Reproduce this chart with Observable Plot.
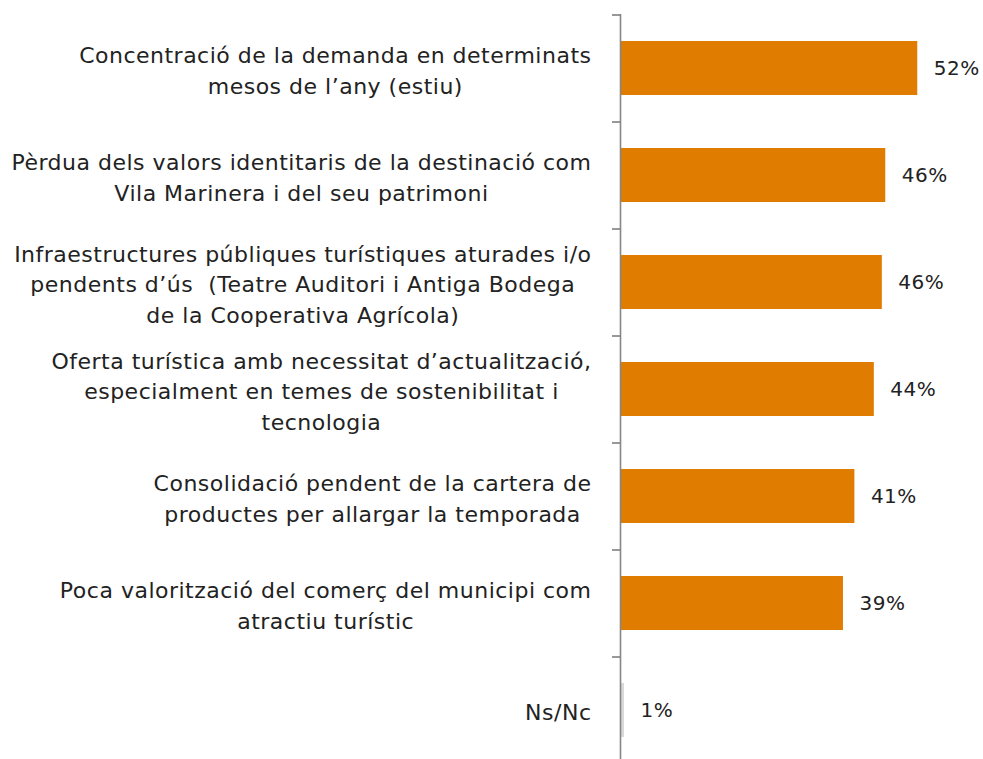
<!DOCTYPE html>
<html>
<head>
<meta charset="utf-8">
<script src="https://cdn.jsdelivr.net/npm/d3@7"></script>
<script src="https://cdn.jsdelivr.net/npm/@observablehq/plot@0.6"></script>
<style>
  html, body { margin: 0; padding: 0; background: #fff; overflow: hidden; }
  #chart { width: 983px; height: 759px; overflow: hidden; }
</style>
</head>
<body>
<div id="chart"></div>
<script>
const categories = [
  "Concentració de la demanda en determinats\nmesos de l’any (estiu)",
  "Pèrdua dels valors identitaris de la destinació com\nVila Marinera i del seu patrimoni",
  "Infraestructures públiques turístiques aturades i/o\npendents d’ús  (Teatre Auditori i Antiga Bodega\nde la Cooperativa Agrícola)",
  "Oferta turística amb necessitat d’actualització,\nespecialment en temes de sostenibilitat i\ntecnologia",
  "Consolidació pendent de la cartera de\nproductes per allargar la temporada",
  "Poca valorització del comerç del municipi com\natractiu turístic",
  "Ns/Nc"
];
const values = [52.0, 46.4, 45.8, 44.4, 41.0, 39.0, 0.7];
const barColors = ["#e07c00", "#e07c00", "#e07c00", "#e07c00", "#e07c00", "#e07c00", "#d9d9d9"];

const data = categories.map((c, i) => ({cat: c, value: values[i], color: barColors[i]}));

const FONT = '"DejaVu Sans", sans-serif';
const FS = 22;
const LS = 0.5;
const W = 983, H = 763, ML = 620, MR = 20, MT = 14, MB = 0;
const step = (H - MT - MB) / categories.length;

const ctx = document.createElement("canvas").getContext("2d");
ctx.font = `${FS}px ${FONT}`;
function blockWidth(s) {
  return d3.max(s.split("\n"), l => ctx.measureText(l).width + LS * l.length);
}
const GAP = 29;

const labelMarks = data.map(d => Plot.text([d], {
  x: 0, y: "cat", text: "cat",
  textAnchor: "middle", lineHeight: 1.4,
  dx: -(GAP + blockWidth(d.cat) / 2),
  fill: "#222", fontSize: FS
}));

const chart = Plot.plot({
  width: W, height: H,
  marginLeft: ML, marginRight: MR, marginTop: MT, marginBottom: MB,
  style: {fontFamily: FONT, background: "#fff", letterSpacing: LS + "px"},
  x: {domain: [0, 60], axis: null},
  y: {domain: categories, paddingInner: 0.5, paddingOuter: 0.25, axis: null},
  marks: [
    Plot.barX(data, {x: "value", y: "cat", fill: "color"}),
    Plot.text(data, {x: "value", y: "cat", text: d => Math.round(d.value) + "%",
      textAnchor: "start", dx: 16, fontSize: 20, fill: "#222"}),
    ...labelMarks,
    Plot.axisY({tickSize: 8, tickFormat: () => "", label: null, dy: -step / 2, stroke: "#333", strokeWidth: 1}),
    Plot.ruleX([0], {stroke: "#868686", strokeWidth: 1.6})
  ]
});
document.getElementById("chart").appendChild(chart);
</script>
</body>
</html>
